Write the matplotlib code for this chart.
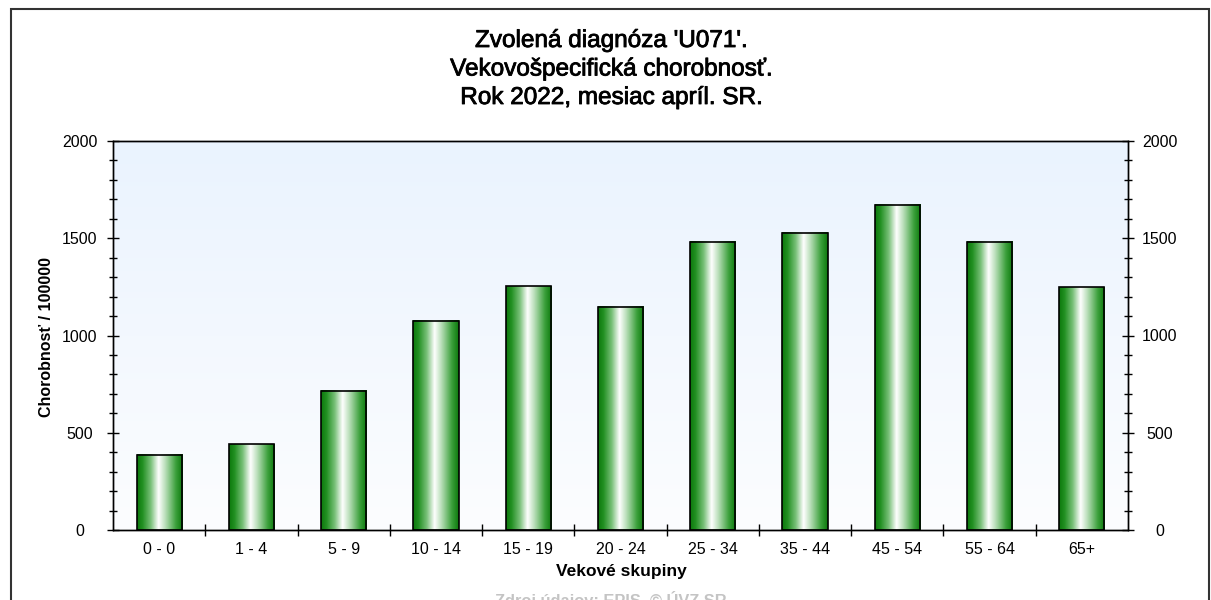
import matplotlib

matplotlib.use("Agg")
import matplotlib.patheffects as pe
import matplotlib.pyplot as plt
import numpy as np
from matplotlib.colors import LinearSegmentedColormap
from matplotlib.patches import Rectangle
from matplotlib.ticker import MultipleLocator

categories = ["0 - 0", "1 - 4", "5 - 9", "10 - 14", "15 - 19", "20 - 24",
              "25 - 34", "35 - 44", "45 - 54", "55 - 64", "65+"]
values = [386, 442, 715, 1075, 1254, 1147, 1481, 1527, 1671, 1481, 1249]
y_ticks = [0, 500, 1000, 1500, 2000]
title_lines = ["Zvolená diagnóza 'U071'.",
               "Vekovošpecifická chorobnosť.",
               "Rok 2022, mesiac apríl. SR."]

plt.rcParams["font.family"] = ["Liberation Sans", "DejaVu Sans"]

W, H = 1211, 600
fig = plt.figure(figsize=(W / 100, H / 100), dpi=100)
fig.patch.set_facecolor("white")


def fx(px):
    return px / W


def fy(py):
    return 1 - py / H


# outer frame
fig.add_artist(Rectangle((fx(11), fy(640)), fx(1209) - fx(11), fy(9) - fy(640),
                         transform=fig.transFigure, fill=False,
                         edgecolor="#333333", linewidth=1.5))

ax = fig.add_axes([fx(113), fy(530), fx(1128) - fx(113), fy(141) - fy(530)])
n = len(categories)

bg = LinearSegmentedColormap.from_list("bg", ["#fcfdff", "#eaf3fe"])
ax.imshow(np.linspace(0, 1, 200).reshape(-1, 1), cmap=bg, extent=[0, n, 0, 2000],
          origin="lower", aspect="auto", zorder=0)

green = LinearSegmentedColormap.from_list(
    "green",
    [(0.0, "#0c780c"), (0.12, "#229022"), (0.3, "#79c079"),
     (0.47, "#ffffff"), (0.62, "#b8deb8"), (0.85, "#3a9f3a"), (1.0, "#0c780c")])
grad = np.linspace(0, 1, 256).reshape(1, -1)

xpos = np.arange(n) + 0.5
bars = ax.bar(xpos, values, width=0.49, facecolor="none", edgecolor="black",
              linewidth=1.2, zorder=3)
for bar in bars:
    ax.imshow(grad, cmap=green, aspect="auto", zorder=2, interpolation="bilinear",
              extent=[bar.get_x(), bar.get_x() + bar.get_width(), 0, bar.get_height()])

ax.set_xlim(0, n)
ax.set_ylim(0, 2000)

for sp in ax.spines.values():
    sp.set_linewidth(1)
    sp.set_color("black")

# y axis left
ax.set_yticks(y_ticks)
ax.yaxis.set_minor_locator(MultipleLocator(100))
ax.tick_params(axis="y", which="major", direction="inout", length=8.6, width=1,
               pad=19.5, labelsize=11.5)
ax.tick_params(axis="y", which="minor", direction="inout", length=5.8, width=1)
for lab in ax.get_yticklabels():
    lab.set_horizontalalignment("center")

# y axis right
ax2 = ax.twinx()
ax2.set_ylim(0, 2000)
ax2.set_yticks(y_ticks)
ax2.yaxis.set_minor_locator(MultipleLocator(100))
ax2.tick_params(axis="y", which="major", direction="inout", length=8.6, width=1,
                pad=18.7, labelsize=11.5)
ax2.tick_params(axis="y", which="minor", direction="inout", length=5.8, width=1)
for lab in ax2.get_yticklabels():
    lab.set_horizontalalignment("center")
for sp in ax2.spines.values():
    sp.set_linewidth(1)

# x axis
ax.set_xticks(np.arange(1, n))
ax.set_xticklabels([])
ax.tick_params(axis="x", which="major", direction="inout", length=8.6, width=1)
ax.set_xticks(xpos, minor=True)
ax.set_xticklabels(categories, minor=True)
ax.tick_params(axis="x", which="minor", length=0, pad=9, labelsize=11.5)

# texts
for i, line in enumerate(title_lines):
    fig.text(fx(611), fy(47 + i * 28.5), line, ha="center", va="baseline",
             fontsize=17.5,
             path_effects=[pe.withStroke(linewidth=0.6, foreground="black")])

fig.text(fx(621), fy(576), "Vekové skupiny", ha="center", va="baseline",
         fontsize=12.5, fontweight="bold")
fig.text(fx(47), fy(337), "Chorobnosť / 100000", ha="center", va="center",
         rotation=90, fontsize=11.5, fontweight="bold")
fig.text(fx(611), fy(591), "Zdroj údajov: EPIS, © ÚVZ SR", ha="center", va="top",
         fontsize=11.8, fontweight="bold", color="#c4c4c4")

fig.savefig("out.png", dpi=100)
